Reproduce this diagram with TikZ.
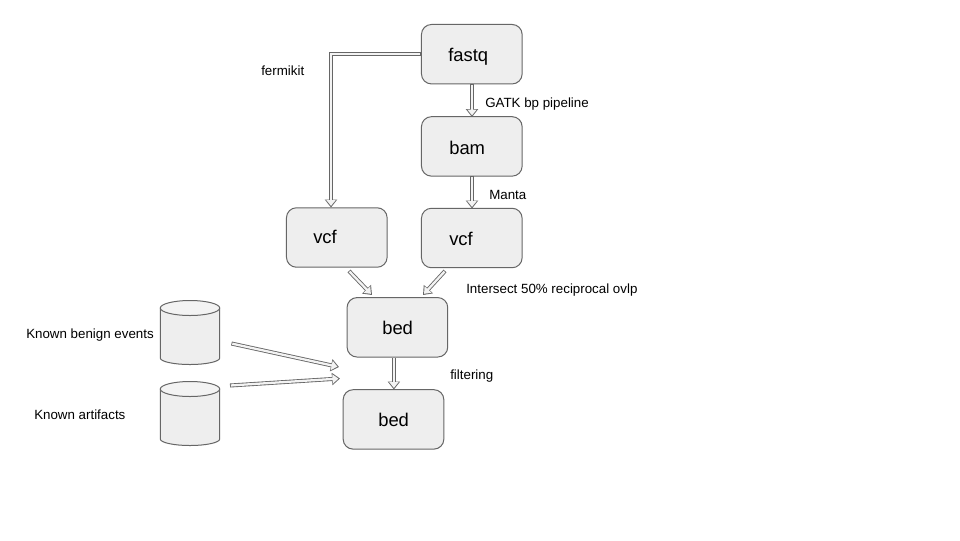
\documentclass[tikz,border=0pt]{standalone}
\usepackage{fontspec}
\setmainfont{Liberation Sans}
\usetikzlibrary{arrows.meta}
\definecolor{boxfill}{HTML}{EEEEEE}
\definecolor{linegray}{HTML}{666666}
\definecolor{arrowfill}{HTML}{F3F3F3}
\tikzset{
  x=0.75pt,y=-0.75pt,
  procbox/.style={draw=linegray,line width=0.75pt,fill=boxfill,rounded corners=7.5pt,
    minimum width=75.5pt,minimum height=44.6pt,inner sep=0pt},
  boxtxt/.style={font=\fontsize{13.8}{16}\selectfont,inner sep=0pt,anchor=base west},
  dbnode/.style={minimum width=44.5pt,minimum height=48pt,inner sep=0pt,outer sep=0pt},
  dbbody/.style={draw=linegray,line width=0.75pt,fill=boxfill},
  dbtop/.style={draw=linegray,line width=0.75pt,fill=arrowfill},
  lbl/.style={font=\fontsize{10}{12}\selectfont,inner sep=0pt,anchor=base west},
  flow/.style={line join=miter,draw=arrowfill,line width=1.7pt,
    shorten >=1.2pt,shorten <=0.6pt,
    -{Triangle[length=4.4pt,width=6.8pt,color=arrowfill]},
    preaction={draw=linegray,line width=3pt,shorten >=0pt,shorten <=0pt,
      -{Triangle[length=6pt,width=9pt,color=linegray]}}},
}
\newcommand{\dbshape}[3]{% centre x, top of side wall y, bottom of side wall y
  \path[dbbody] (#1-29.7,#2) -- (#1-29.7,#3)
    .. controls (#1-29.7,#3+3.6) and (#1-16.3,#3+6.5) .. (#1,#3+6.5)
    .. controls (#1+16.3,#3+6.5) and (#1+29.7,#3+3.6) .. (#1+29.7,#3)
    -- (#1+29.7,#2) -- cycle;
  \path[dbtop] (#1-29.7,#2)
    .. controls (#1-29.7,#2-4.1) and (#1-16.3,#2-7.5) .. (#1,#2-7.5)
    .. controls (#1+16.3,#2-7.5) and (#1+29.7,#2-4.1) .. (#1+29.7,#2)
    .. controls (#1+29.7,#2+4.1) and (#1+16.3,#2+7.5) .. (#1,#2+7.5)
    .. controls (#1-16.3,#2+7.5) and (#1-29.7,#2+4.1) .. (#1-29.7,#2) -- cycle;
}
\begin{document}
\begin{tikzpicture}
\useasboundingbox (0,0) rectangle (960,540);
\fill[white] (0,0) rectangle (960,540);
% free ends
\coordinate (vcfLout) at (349,271);
\coordinate (vcfLin) at (372,295);
\coordinate (vcfRout) at (445,271);
\coordinate (vcfRin) at (423,295);
\coordinate (dbAout) at (231.5,343.5);
\coordinate (dbAin) at (339,367);
\coordinate (dbBout) at (230,385.5);
\coordinate (dbBin) at (340,378.5);
\coordinate (bendL) at (331,54.2);
\coordinate (vcfLtop) at (331,207.5);
\coordinate (fastqS) at (472,84);
\coordinate (bamN) at (472,117);
\coordinate (bamS) at (472,176);
\coordinate (vcfRN) at (472,208.5);
\coordinate (bedAS) at (393.9,357.5);
\coordinate (bedBN) at (393.9,389.5);
% boxes
\node[procbox] (fastq) at (471.8,54.2) {};
\node[procbox] (bam) at (471.8,146.4) {};
\node[procbox] (vcfR) at (471.8,238) {};
\node[procbox] (vcfL) at (336.8,237.5) {};
\node[procbox] (bedA) at (397.4,327.3) {};
\node[procbox] (bedB) at (393.5,419.4) {};
\node[boxtxt] (tfastq) at (448,61.5) {fastq};
\node[boxtxt] (tbam) at (449,154.5) {bam};
\node[boxtxt] (tvcfR) at (449,245.5) {vcf};
\node[boxtxt] (tvcfL) at (313,243.5) {vcf};
\node[boxtxt] (tbedA) at (382,334) {bed};
\node[boxtxt] (tbedB) at (378,426) {bed};
% databases
\dbshape{190}{308}{358}
\dbshape{190}{389}{439}
\node[dbnode] (dbA) at (190,332.5) {};
\node[dbnode] (dbB) at (190,413.5) {};
% connectors
\draw[flow] (fastq.west) -- (bendL) -- (vcfLtop);
\draw[flow] (fastqS) -- (bamN);
\draw[flow] (bamS) -- (vcfRN);
\draw[flow] (vcfLout) -- (vcfLin);
\draw[flow] (vcfRout) -- (vcfRin);
\draw[flow] (dbAout) -- (dbAin);
\draw[flow] (dbBout) -- (dbBin);
\draw[flow] (bedAS) -- (bedBN);
% labels
\node[lbl] (lfermi) at (261,75) {fermikit};
\node[lbl] (lgatk) at (485,107) {GATK bp pipeline};
\node[lbl] (lmanta) at (489,199) {Manta};
\node[lbl] (lint) at (466,293.5) {Intersect 50\% reciprocal ovlp};
\node[lbl] (lfilt) at (450,379) {filtering};
\node[lbl] (lbenign) at (26,338.5) {Known benign events};
\node[lbl] (lart) at (34,419) {Known artifacts};
\end{tikzpicture}
\end{document}
